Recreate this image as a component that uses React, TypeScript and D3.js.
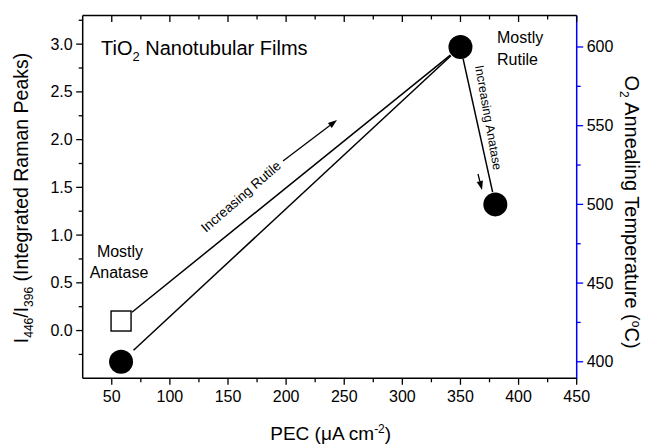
import React from "react";
import * as d3 from "d3";

// ---- data ----
const pecCircles = [58, 350, 380];
const tempCircles = [400, 600, 500];
const pecSquares = [58];
const ratioSquares = [0.1];

const xMajorTicks = [50, 100, 150, 200, 250, 300, 350, 400, 450];
const xMinorTicks = [75, 125, 175, 225, 275, 325, 375, 425];
const leftMajorTicks = [0, 0.5, 1.0, 1.5, 2.0, 2.5, 3.0];
const leftMinorTicks = [-0.25, 0.25, 0.75, 1.25, 1.75, 2.25, 2.75, 3.25];
const rightMajorTicks = [400, 450, 500, 550, 600];
const rightMinorTicks = [425, 475, 525, 575];

const W = 651;
const H = 447;
const L = 82.7, R = 576.7, T = 15.5, B = 378.3;
const FONT = "'Liberation Sans', Arial, Helvetica, sans-serif";

const x = d3.scaleLinear().domain([25, 450]).range([L, R]);
const yL = d3.scaleLinear().domain([-0.5, 3.3]).range([B, T]);
const yR = d3.scaleLinear().domain([389.5, 620]).range([B, T]);

function seg(ax: number, ay: number, bx: number, by: number, ga: number, gb: number) {
  const dx = bx - ax, dy = by - ay;
  const len = Math.hypot(dx, dy);
  const ux = dx / len, uy = dy / len;
  return { x1: ax + ux * ga, y1: ay + uy * ga, x2: bx - ux * gb, y2: by - uy * gb };
}

function Arrow({ x1, y1, x2, y2 }: { x1: number; y1: number; x2: number; y2: number }) {
  const a = Math.atan2(y2 - y1, x2 - x1);
  const hl = 9, hw = 3.2;
  const bx = x2 - Math.cos(a) * hl, by = y2 - Math.sin(a) * hl;
  const p1 = [bx + Math.sin(a) * hw, by - Math.cos(a) * hw];
  const p2 = [bx - Math.sin(a) * hw, by + Math.cos(a) * hw];
  return (
    <g>
      <line x1={x1} y1={y1} x2={bx} y2={by} stroke="#000" strokeWidth={1.3} />
      <path d={`M${x2},${y2}L${p1[0]},${p1[1]}L${p2[0]},${p2[1]}Z`} fill="#000" />
    </g>
  );
}

export default function App() {
  const cx = pecCircles.map((v) => x(v));
  const cy = tempCircles.map((v) => yR(v));
  const sx = x(pecSquares[0]);
  const sy = yL(ratioSquares[0]);

  const s1 = seg(sx, sy, cx[1], cy[1], 14, 13);
  const s2 = seg(cx[0], cy[0], cx[1], cy[1], 17, 13);
  const s3 = seg(cx[1], cy[1], cx[2], cy[2], 12, 12.5);

  return (
    <svg width={W} height={H} style={{ position: "absolute", left: 0, top: 0, background: "#fff" }} fontFamily={FONT}>
      <rect width={W} height={H} fill="#fff" />
      {/* frame */}
      <line x1={L} y1={T} x2={L} y2={B} stroke="#000" strokeWidth={1.5} />
      <line x1={L} y1={B} x2={R} y2={B} stroke="#000" strokeWidth={1.5} />
      <line x1={L} y1={T} x2={R} y2={T} stroke="#000" strokeWidth={1.5} />
      <line x1={R} y1={T} x2={R} y2={B + 0.5} stroke="#0000ff" strokeWidth={1.5} />

      {/* bottom axis */}
      {xMajorTicks.map((t) => (
        <g key={"xb" + t}>
          <line x1={x(t)} x2={x(t)} y1={B} y2={B + 6.5} stroke="#000" strokeWidth={1.3} />
          <line x1={x(t)} x2={x(t)} y1={T} y2={T + 6.5} stroke="#000" strokeWidth={1.3} />
          <text x={x(t)} y={B + 24} fontSize={16} textAnchor="middle" fill="#000">
            {t}
          </text>
        </g>
      ))}
      {xMinorTicks.map((t) => (
        <g key={"xm" + t}>
          <line x1={x(t)} x2={x(t)} y1={B} y2={B + 4} stroke="#000" strokeWidth={1.3} />
          <line x1={x(t)} x2={x(t)} y1={T} y2={T + 4} stroke="#000" strokeWidth={1.3} />
        </g>
      ))}

      {/* left axis */}
      {leftMajorTicks.map((t) => (
        <g key={"yl" + t}>
          <line x1={L - 6.5} x2={L} y1={yL(t)} y2={yL(t)} stroke="#000" strokeWidth={1.3} />
          <text x={L - 10} y={yL(t) + 5.5} fontSize={16} textAnchor="end" fill="#000">
            {t.toFixed(1)}
          </text>
        </g>
      ))}
      {leftMinorTicks.map((t) => (
        <line key={"ylm" + t} x1={L - 4} x2={L} y1={yL(t)} y2={yL(t)} stroke="#000" strokeWidth={1.3} />
      ))}

      {/* right axis */}
      {rightMajorTicks.map((t) => (
        <g key={"yr" + t}>
          <line x1={R} x2={R + 6.5} y1={yR(t)} y2={yR(t)} stroke="#0000ff" strokeWidth={1.3} />
          <text x={R + 10} y={yR(t) + 5.5} fontSize={16} textAnchor="start" fill="#000">
            {t}
          </text>
        </g>
      ))}
      {rightMinorTicks.map((t) => (
        <line key={"yrm" + t} x1={R} x2={R + 4} y1={yR(t)} y2={yR(t)} stroke="#0000ff" strokeWidth={1.3} />
      ))}

      {/* axis titles */}
      <text x={(L + R) / 2 + 1} y={440} fontSize={19} textAnchor="middle" fill="#000">
        PEC (<tspan>μ</tspan>A cm<tspan dy={-7} fontSize={12}>-2</tspan>
        <tspan dy={7}>)</tspan>
      </text>
      <text transform={`translate(28,198) rotate(-90)`} fontSize={19.5} textAnchor="middle" fill="#000">
        I<tspan dy={5} fontSize={12}>446</tspan>
        <tspan dy={-5}>/I</tspan>
        <tspan dy={5} fontSize={12}>396</tspan>
        <tspan dy={-5}> (Integrated Raman Peaks)</tspan>
      </text>
      <text transform={`translate(625,212) rotate(90)`} fontSize={20} textAnchor="middle" fill="#000">
        O<tspan dy={5} fontSize={12}>2</tspan>
        <tspan dy={-5}> Annealing Temperature (</tspan>
        <tspan dy={-7} fontSize={12}>o</tspan>
        <tspan dy={7}>C)</tspan>
      </text>

      {/* lines */}
      {[s1, s2, s3].map((s, i) => (
        <line key={"s" + i} {...s} stroke="#000" strokeWidth={1.5} />
      ))}

      {/* markers */}
      {pecSquares.map((p, i) => (
        <rect key={"sq" + i} x={x(p) - 10} y={yL(ratioSquares[i]) - 10} width={20} height={20} fill="#fff" stroke="#000" strokeWidth={1.4} />
      ))}
      {pecCircles.map((p, i) => (
        <circle key={"c" + i} cx={x(p)} cy={yR(tempCircles[i])} r={12} fill="#000" />
      ))}

      {/* annotations */}
      <text x={101} y={55} fontSize={20} fill="#000">
        TiO<tspan dy={6} fontSize={13}>2</tspan>
        <tspan dy={-6}> Nanotubular Films</tspan>
      </text>
      <text x={497} y={43} fontSize={16} fill="#000">Mostly</text>
      <text x={497} y={65} fontSize={16} fill="#000">Rutile</text>
      <text x={120} y={257} fontSize={16} textAnchor="middle" fill="#000">Mostly</text>
      <text x={119} y={278} fontSize={16} textAnchor="middle" fill="#000">Anatase</text>

      <text transform="translate(206,233) rotate(-41)" fontSize={13.5} fill="#000">Increasing Rutile</text>
      <Arrow x1={283} y1={161} x2={337} y2={120} />

      <text transform="translate(475,66) rotate(80)" fontSize={12.5} fill="#000">Increasing Anatase</text>
      <Arrow x1={478} y1={174} x2={482} y2={190} />
    </svg>
  );
}
